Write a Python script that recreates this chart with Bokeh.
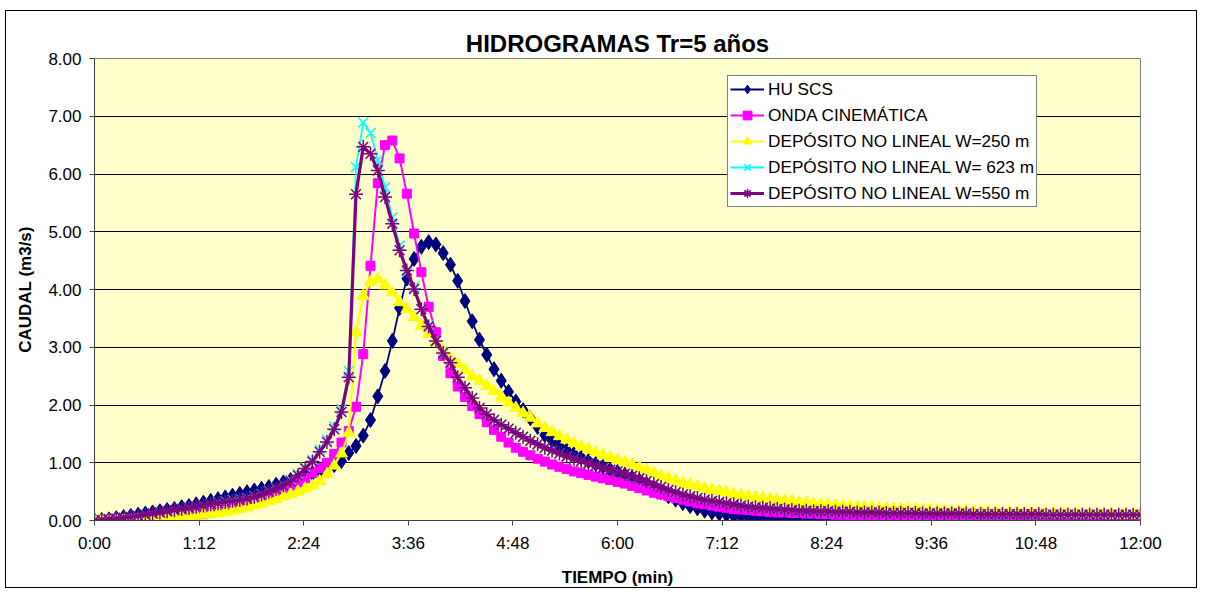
from bokeh.plotting import figure
from bokeh.models import (Range1d, FixedTicker, NumeralTickFormatter, Legend, LegendItem)
from bokeh.embed import file_html
from bokeh.resources import INLINE

# ---------------- data ----------------
title_text = "HIDROGRAMAS Tr=5 años"
x_label = "TIEMPO (min)"
y_label = "CAUDAL (m3/s)"

tick_minutes = [0, 72, 144, 216, 288, 360, 432, 504, 576, 648, 720]
tick_labels = ["0:00", "1:12", "2:24", "3:36", "4:48", "6:00", "7:12",
               "8:24", "9:36", "10:48", "12:00"]
y_ticks = [0, 1, 2, 3, 4, 5, 6, 7, 8]

minutes = list(range(0, 721, 5))

names = ["HU SCS", "ONDA CINEMÁTICA", "DEPÓSITO NO LINEAL W=250 m",
         "DEPÓSITO NO LINEAL W= 623 m", "DEPÓSITO NO LINEAL W=550 m"]

hu_scs = [
    0.00, 0.01, 0.02, 0.04, 0.06, 0.08, 0.10, 0.12, 0.14, 0.16, 0.18, 0.20,
    0.23, 0.25, 0.28, 0.31, 0.34, 0.37, 0.40, 0.43, 0.46, 0.49, 0.52, 0.55,
    0.58, 0.62, 0.66, 0.70, 0.74, 0.78, 0.82, 0.86, 0.90, 0.96, 1.03, 1.17,
    1.29, 1.47, 1.74, 2.15, 2.59, 3.11, 3.68, 4.19, 4.53, 4.74, 4.82, 4.78,
    4.63, 4.43, 4.15, 3.80, 3.45, 3.13, 2.87, 2.62, 2.42, 2.23, 2.06, 1.91,
    1.77, 1.62, 1.48, 1.38, 1.29, 1.22, 1.15, 1.09, 1.03, 0.98, 0.93, 0.88,
    0.84, 0.79, 0.74, 0.69, 0.63, 0.56, 0.49, 0.42, 0.36, 0.30, 0.25, 0.21,
    0.17, 0.14, 0.12, 0.10, 0.08, 0.07, 0.06, 0.05, 0.05, 0.04, 0.04, 0.03,
    0.03, 0.03, 0.02, 0.02, 0.02, 0.02, 0.02, 0.02, 0.01, 0.01, 0.01, 0.01,
    0.01, 0.01, 0.01, 0.01, 0.01, 0.01, 0.01, 0.01,
]

onda_cinematica = [
    0.00, 0.00, 0.01, 0.01, 0.02, 0.02, 0.03, 0.03, 0.04, 0.04, 0.05, 0.05,
    0.06, 0.07, 0.09, 0.11, 0.13, 0.15, 0.18, 0.21, 0.25, 0.29, 0.33, 0.38,
    0.43, 0.48, 0.53, 0.59, 0.66, 0.73, 0.82, 0.91, 1.00, 1.15, 1.35, 1.55,
    1.97, 2.88, 4.41, 5.84, 6.50, 6.58, 6.27, 5.66, 4.97, 4.30, 3.70, 3.26,
    2.85, 2.55, 2.32, 2.14, 1.98, 1.84, 1.70, 1.57, 1.45, 1.35, 1.26, 1.19,
    1.13, 1.07, 1.02, 0.97, 0.93, 0.89, 0.85, 0.82, 0.79, 0.76, 0.73, 0.70,
    0.67, 0.64, 0.60, 0.56, 0.52, 0.48, 0.45, 0.42, 0.39, 0.36, 0.33, 0.30,
    0.28, 0.26, 0.24, 0.22, 0.20, 0.19, 0.18, 0.17, 0.16, 0.15, 0.14, 0.14,
    0.13, 0.13, 0.12, 0.12, 0.11, 0.11, 0.10, 0.10, 0.09, 0.09, 0.09, 0.08,
    0.08, 0.08, 0.07, 0.07, 0.07, 0.07, 0.06, 0.06, 0.06, 0.06, 0.05, 0.05,
    0.05, 0.05, 0.05, 0.05, 0.05, 0.04, 0.04, 0.04, 0.04, 0.04, 0.04, 0.04,
    0.04, 0.03, 0.03, 0.03, 0.03, 0.03, 0.03, 0.03, 0.03, 0.03, 0.03, 0.03,
    0.03,
]

deposito_250 = [
    0.00, 0.00, 0.00, 0.01, 0.01, 0.01, 0.02, 0.02, 0.03, 0.03, 0.04, 0.05,
    0.06, 0.07, 0.08, 0.10, 0.11, 0.13, 0.15, 0.17, 0.20, 0.23, 0.26, 0.29,
    0.33, 0.37, 0.42, 0.46, 0.50, 0.55, 0.60, 0.68, 0.80, 0.95, 1.16, 1.52,
    3.26, 3.89, 4.13, 4.18, 4.07, 3.95, 3.78, 3.66, 3.52, 3.37, 3.23, 3.08,
    2.94, 2.80, 2.71, 2.60, 2.50, 2.42, 2.33, 2.24, 2.13, 2.04, 1.95, 1.86,
    1.78, 1.68, 1.60, 1.53, 1.46, 1.40, 1.34, 1.28, 1.23, 1.18, 1.13, 1.09,
    1.05, 1.01, 0.97, 0.92, 0.87, 0.82, 0.77, 0.73, 0.69, 0.65, 0.62, 0.59,
    0.56, 0.53, 0.51, 0.49, 0.46, 0.44, 0.42, 0.40, 0.39, 0.37, 0.36, 0.34,
    0.33, 0.31, 0.30, 0.29, 0.28, 0.27, 0.26, 0.25, 0.24, 0.23, 0.23, 0.22,
    0.21, 0.21, 0.20, 0.20, 0.19, 0.19, 0.18, 0.18, 0.17, 0.17, 0.16, 0.16,
    0.16, 0.15, 0.15, 0.15, 0.14, 0.14, 0.14, 0.13, 0.13, 0.13, 0.13, 0.12,
    0.12, 0.12, 0.12, 0.11, 0.11, 0.11, 0.11, 0.11, 0.10, 0.10, 0.10, 0.10,
    0.10,
]

deposito_623 = [
    0.00, 0.01, 0.02, 0.03, 0.05, 0.06, 0.08, 0.10, 0.12, 0.14, 0.16, 0.18,
    0.20, 0.22, 0.24, 0.26, 0.28, 0.31, 0.33, 0.35, 0.37, 0.39, 0.42, 0.46,
    0.51, 0.56, 0.62, 0.70, 0.80, 0.92, 1.05, 1.23, 1.40, 1.63, 1.93, 2.59,
    6.12, 6.89, 6.71, 6.24, 5.77, 5.25, 4.76, 4.30, 4.05, 3.66, 3.38, 3.11,
    2.92, 2.74, 2.48, 2.30, 2.12, 1.95, 1.84, 1.74, 1.66, 1.59, 1.52, 1.45,
    1.38, 1.32, 1.26, 1.21, 1.16, 1.11, 1.07, 1.03, 0.99, 0.95, 0.91, 0.88,
    0.85, 0.81, 0.77, 0.73, 0.68, 0.63, 0.58, 0.53, 0.49, 0.45, 0.42, 0.39,
    0.36, 0.34, 0.32, 0.30, 0.28, 0.26, 0.24, 0.23, 0.22, 0.21, 0.20, 0.19,
    0.18, 0.17, 0.17, 0.16, 0.16, 0.16, 0.15, 0.15, 0.15, 0.14, 0.14, 0.14,
    0.14, 0.13, 0.13, 0.13, 0.13, 0.13, 0.12, 0.12, 0.12, 0.12, 0.12, 0.12,
    0.12, 0.11, 0.11, 0.11, 0.11, 0.11, 0.11, 0.11, 0.11, 0.11, 0.11, 0.10,
    0.10, 0.10, 0.10, 0.10, 0.10, 0.10, 0.10, 0.10, 0.10, 0.10, 0.10, 0.10,
    0.10,
]

deposito_550 = [
    0.00, 0.01, 0.02, 0.03, 0.05, 0.06, 0.08, 0.10, 0.12, 0.14, 0.16, 0.18,
    0.20, 0.22, 0.24, 0.26, 0.28, 0.30, 0.32, 0.34, 0.36, 0.38, 0.41, 0.45,
    0.50, 0.55, 0.61, 0.68, 0.78, 0.90, 1.02, 1.19, 1.36, 1.58, 1.88, 2.48,
    5.65, 6.47, 6.35, 6.06, 5.60, 5.14, 4.68, 4.33, 4.01, 3.66, 3.36, 3.11,
    2.90, 2.73, 2.48, 2.30, 2.12, 1.95, 1.84, 1.74, 1.66, 1.59, 1.52, 1.45,
    1.38, 1.32, 1.26, 1.21, 1.16, 1.11, 1.07, 1.03, 0.99, 0.95, 0.91, 0.88,
    0.85, 0.81, 0.77, 0.73, 0.68, 0.63, 0.58, 0.53, 0.49, 0.45, 0.42, 0.39,
    0.36, 0.34, 0.32, 0.30, 0.28, 0.26, 0.24, 0.23, 0.22, 0.21, 0.20, 0.19,
    0.18, 0.17, 0.17, 0.16, 0.16, 0.16, 0.15, 0.15, 0.15, 0.14, 0.14, 0.14,
    0.14, 0.13, 0.13, 0.13, 0.13, 0.13, 0.12, 0.12, 0.12, 0.12, 0.12, 0.12,
    0.12, 0.11, 0.11, 0.11, 0.11, 0.11, 0.11, 0.11, 0.11, 0.11, 0.11, 0.10,
    0.10, 0.10, 0.10, 0.10, 0.10, 0.10, 0.10, 0.10, 0.10, 0.10, 0.10, 0.10,
    0.10,
]

series = [hu_scs, onda_cinematica, deposito_250, deposito_623, deposito_550]

# ---------------- styles ----------------
FONT = "Liberation Sans"
colors = ["#000080", "#FF00FF", "#FFFF00", "#00FFFF", "#800080"]
markers = ["diamond", "square", "triangle", "x", "asterisk"]
msizes = [15, 9, 12, 14, 14]
lwidths = [1.8, 2, 2, 1.8, 3.2]

p = figure(width=1192, height=578, output_backend="svg", toolbar_location=None,
           x_range=Range1d(0, 720), y_range=Range1d(0, 8),
           min_border_left=88, min_border_right=58,
           min_border_top=47, min_border_bottom=69,
           background_fill_color="#FFFFCC", border_fill_color="white",
           title=title_text)
p.margin = (10, 8, 6, 5)
p.styles = {"border": "1px solid black"}

p.title.align = "center"
p.title.text_font = FONT
p.title.text_font_size = "24px"
p.title.text_font_style = "bold"
p.title.text_color = "black"
p.title.standoff = 4

p.outline_line_color = "#808080"
p.outline_line_width = 1

p.xgrid.visible = False
p.ygrid.ticker = FixedTicker(ticks=y_ticks)
p.ygrid.grid_line_color = "black"
p.ygrid.grid_line_width = 1

p.xaxis.ticker = FixedTicker(ticks=tick_minutes)
p.xaxis.major_label_overrides = {m: l for m, l in zip(tick_minutes, tick_labels)}
p.yaxis.ticker = FixedTicker(ticks=y_ticks)
p.yaxis.formatter = NumeralTickFormatter(format="0.00")

for ax in (p.xaxis[0], p.yaxis[0]):
    ax.axis_line_color = "#404040"
    ax.major_tick_line_color = "#404040"
    ax.major_tick_out = 5
    ax.major_tick_in = 0
    ax.minor_tick_out = 0
    ax.minor_tick_in = 0
    ax.major_label_text_font = FONT
    ax.major_label_text_font_size = "17px"
    ax.major_label_text_color = "black"
    ax.axis_label_text_font = FONT
    ax.axis_label_text_font_size = "17px"
    ax.axis_label_text_font_style = "bold"
    ax.axis_label_text_color = "black"

p.xaxis.axis_label = x_label
p.yaxis.axis_label = y_label
p.xaxis.major_label_standoff = 8
p.yaxis.major_label_standoff = 8
p.xaxis.axis_label_standoff = 12
p.yaxis.axis_label_standoff = 10

items = []
for name, ys, c, m, ms, lw in zip(names, series, colors, markers, msizes, lwidths):
    xs = minutes[:len(ys)]
    r_line = p.line(xs, ys, line_color=c, line_width=lw)
    r_mark = p.scatter(xs, ys, marker=m, size=ms, fill_color=c, line_color=c,
                       line_width=1.5 if m in ("x", "asterisk") else 1)
    items.append(LegendItem(label=name, renderers=[r_line, r_mark]))

legend = Legend(items=items, location=(633, 313), orientation="vertical")
legend.margin = 0
legend.padding = 2
legend.spacing = 4
legend.glyph_width = 34
legend.glyph_height = 22
legend.label_height = 22
legend.label_standoff = 4
legend.label_text_font = FONT
legend.label_text_font_size = "17.2px"
legend.label_text_color = "black"
legend.border_line_color = "black"
legend.border_line_width = 1
legend.background_fill_color = "white"
legend.background_fill_alpha = 1
p.add_layout(legend, "center")

open("out.html", "w").write(file_html(p, INLINE))
